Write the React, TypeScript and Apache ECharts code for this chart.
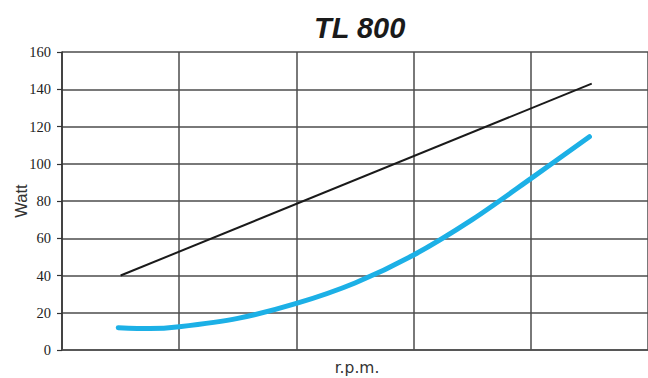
import React, { useEffect, useRef } from "react";
import * as echarts from "echarts";

const titleText = "TL 800";
const yName = "Watt";
const xName = "r.p.m.";
const yTicks = [0, 20, 40, 60, 80, 100, 120, 140, 160];
const blackLine: [number, number][] = [
  [0.5, 40],
  [4.52, 143],
];
const blueLine: [number, number][] = [
  [0.48, 12],
  [0.75, 11.5],
  [1, 12.5],
  [1.5, 17],
  [2, 25],
  [2.5, 36],
  [3, 51],
  [3.5, 70],
  [4, 92],
  [4.5, 114.5],
];

export default function App() {
  const ref = useRef<HTMLDivElement>(null);
  useEffect(() => {
    if (!ref.current) return;
    const chart = echarts.init(ref.current, null, { renderer: "svg" });
    const gridColor = "#4d4d4d";
    chart.setOption({
      animation: false,
      backgroundColor: "#ffffff",
      title: {
        text: titleText,
        left: 309,
        top: 8,
        textStyle: {
          fontSize: 29,
          fontStyle: "italic",
          fontWeight: 900,
          fontFamily: "Liberation Sans, Arial, sans-serif",
          color: "#1a1a1a",
        },
      },
      grid: { left: 62, right: 0, top: 52, bottom: 28, outerBoundsMode: "none", containLabel: false },
      xAxis: {
        type: "value",
        min: 0,
        max: 5,
        interval: 1,
        name: xName,
        nameLocation: "middle",
        nameGap: 10,
        nameMoveOverlap: false,
        nameTextStyle: {
          fontSize: 15.5,
          fontFamily: "DejaVu Sans, Verdana, sans-serif",
          color: "#333",
          verticalAlign: "top",
          padding: [0, 0, 0, 4],
        },
        axisLine: { show: true, lineStyle: { color: gridColor, width: 1.5 } },
        axisTick: { show: false },
        axisLabel: { show: false },
        splitLine: { show: true, lineStyle: { color: gridColor, width: 1.5 } },
      },
      yAxis: {
        type: "value",
        min: yTicks[0],
        max: yTicks[yTicks.length - 1],
        interval: 20,
        name: yName,
        nameLocation: "middle",
        nameGap: 33,
        nameMoveOverlap: false,
        nameTextStyle: {
          fontSize: 16.5,
          fontFamily: "Liberation Sans, Arial, sans-serif",
          color: "#333",
        },
        axisLine: { show: true, lineStyle: { color: "#333", width: 1.5 } },
        axisTick: { show: true, length: 5, lineStyle: { color: "#333", width: 1.2 } },
        axisLabel: {
          margin: 11,
          fontSize: 14.5,
          fontFamily: "Liberation Serif, Times New Roman, serif",
          color: "#222",
        },
        splitLine: { show: true, lineStyle: { color: gridColor, width: 1.5 } },
      },
      series: [
        {
          type: "line",
          data: blackLine,
          symbol: "none",
          lineStyle: { color: "#1a1a1a", width: 2 },
          z: 3,
        },
        {
          type: "line",
          data: blueLine,
          symbol: "none",
          smooth: 0.3,
          lineStyle: { color: "#1cb0e6", width: 5, cap: "round" },
          z: 4,
        },
      ],
    });
    return () => chart.dispose();
  }, []);
  return (
    <div
      ref={ref}
      style={{ position: "fixed", left: 0, top: 0, width: 648, height: 378 }}
    />
  );
}
